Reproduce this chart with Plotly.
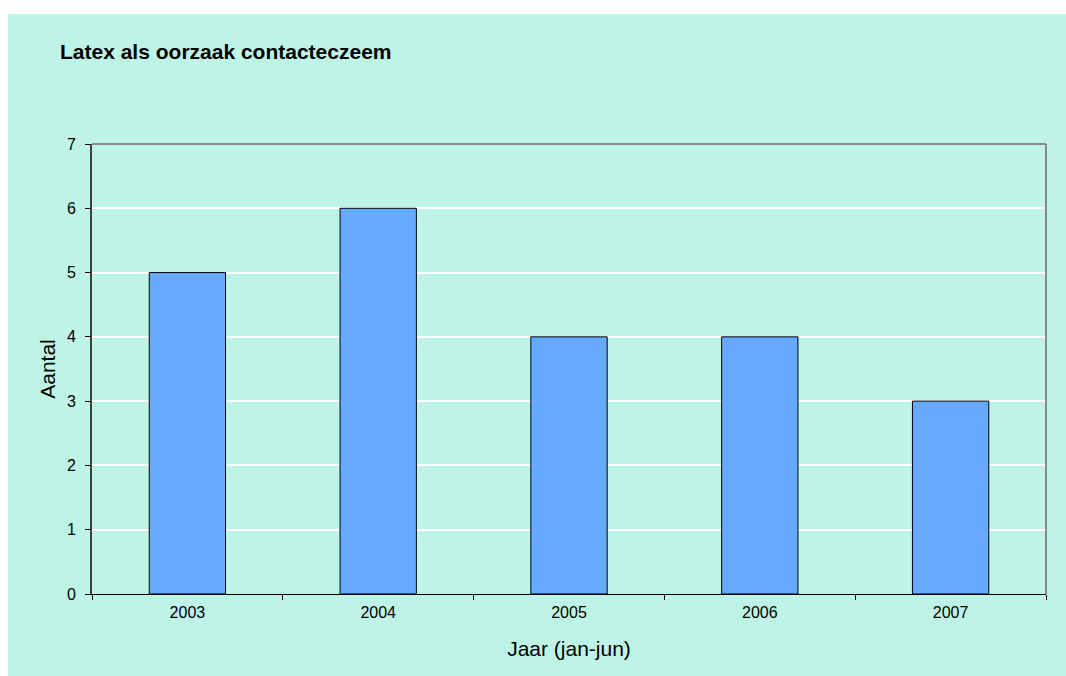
import plotly.graph_objects as go

years = ["2003", "2004", "2005", "2006", "2007"]
counts = [5, 6, 4, 4, 3]

W, H = 1066, 676
L, R, T, B = 92, 20, 144, 82
pw, ph = W - L - R, H - T - B
mint = "#BEF4E6"

fig = go.Figure(go.Bar(
    x=years, y=counts, width=0.4,
    marker=dict(color="#66AAFF", line=dict(color="#000000", width=1)),
))

fig.update_layout(
    width=W, height=H,
    margin=dict(l=L, r=R, t=T, b=B, pad=0),
    paper_bgcolor="#FFFFFF", plot_bgcolor=mint,
    showlegend=False,
    font=dict(family="Liberation Sans, Arial, sans-serif", color="#000000"),
    title=dict(text="<b>Latex als oorzaak contacteczeem</b>", x=60 / W, xanchor="left",
               y=1 - 52 / H, yanchor="middle", font=dict(size=21)),
    shapes=[
        dict(type="rect", xref="paper", yref="paper",
             x0=(8 - L) / pw, x1=(W + 5 - L) / pw,
             y0=-(B + 5) / ph, y1=(ph + T - 14) / ph,
             fillcolor=mint, line=dict(width=0), layer="below"),
        dict(type="line", xref="paper", yref="paper", x0=0, x1=1, y0=1, y1=1,
             line=dict(color="#888888", width=2), layer="above"),
        dict(type="line", xref="paper", yref="paper", x0=1, x1=1, y0=0, y1=1,
             line=dict(color="#888888", width=2), layer="above"),
    ],
)

fig.update_xaxes(
    type="category", tickson="boundaries", ticks="outside", ticklen=5, tickcolor="#000000",
    showline=True, linecolor="#000000", linewidth=1, showgrid=False,
    tickfont=dict(size=16), ticklabelstandoff=4,
    title=dict(text="Jaar (jan-jun)", font=dict(size=21), standoff=21),
)
fig.update_yaxes(
    range=[0, 7], dtick=1, ticks="outside", ticklen=5, tickcolor="#000000",
    showline=True, linecolor="#404040", linewidth=2,
    showgrid=True, gridcolor="#FFFFFF", gridwidth=2, zeroline=False,
    tickfont=dict(size=16), ticklabelstandoff=6,
    title=dict(text="Aantal", font=dict(size=21), standoff=6),
)

fig.write_html("out.html", config={"displayModeBar": False},
               post_script="document.body.style.margin='0';document.body.style.overflow='hidden';")
